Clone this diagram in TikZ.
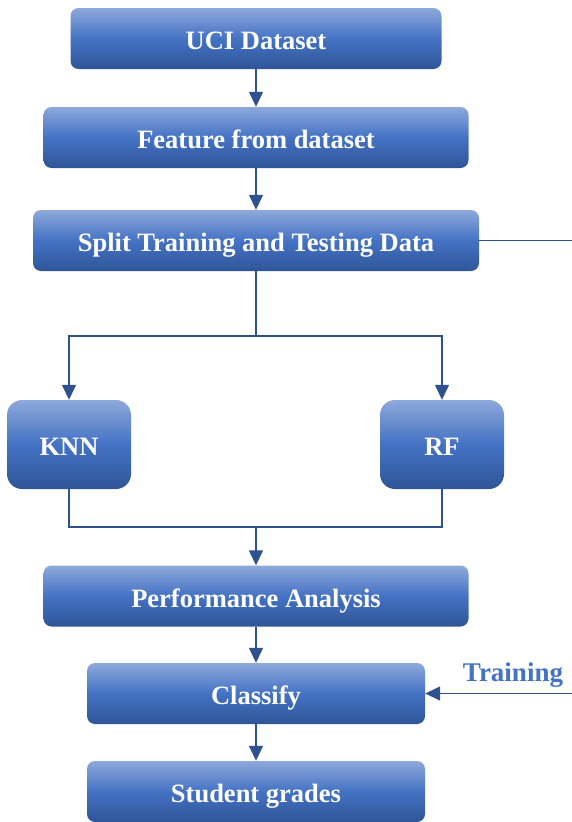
\documentclass[tikz,border=0pt]{standalone}
\usepackage{fontspec}
\setmainfont{Liberation Serif}
\usetikzlibrary{arrows.meta}

\definecolor{boxtop}{HTML}{8EA9DB}
\definecolor{boxmid}{HTML}{4472C4}
\definecolor{boxbot}{HTML}{2F5597}
\definecolor{linkblue}{HTML}{2F528F}

\tikzset{
    stage/.style={rectangle, rounded corners=8pt, inner sep=0pt, minimum height=61pt,
        text height=22pt, text depth=0pt,
        top color=boxtop, bottom color=boxbot, middle color=boxmid,
        text=white, font=\fontsize{26.5}{30}\selectfont\bfseries},
    model/.style={stage, rounded corners=15pt, minimum width=124pt, minimum height=89pt},
    link/.style={draw=linkblue, line width=1.4pt},
    flow/.style={link, -{Triangle[width=14pt,length=15pt]}}
}

\begin{document}
\begin{tikzpicture}[x=1pt, y=-1pt]
    \useasboundingbox (0,0) rectangle (572,822);

    % Draw nodes
    \node[stage, minimum width=371pt] (uci) at (256,38.5) {UCI Dataset};
    \node[stage, minimum width=425pt] (feature) at (256,137.5) {Feature from dataset};
    \node[stage, minimum width=446pt] (split) at (256,240.5) {Split Training and Testing Data};
    \node[model] (knn) at (69,444.5) {KNN};
    \node[model] (rf) at (442,444.5) {RF};
    \node[stage, minimum width=425pt] (perf) at (256,596) {Performance Analysis};
    \node[stage, minimum width=338pt] (classify) at (256,693.5) {Classify};
    \node[stage, minimum width=338pt] (grades) at (256,791.5) {Student grades};

    % Labels
    \node[text=boxmid, font=\fontsize{27}{30}\selectfont\bfseries] (train) at (513,675) {Training};

    % Helper points
    \coordinate (splitend) at (572,240.5);
    \coordinate (fork) at (256,336);
    \coordinate (merge) at (256,527);
    \coordinate (trainend) at (572,693.5);

    % Draw connections
    \draw[flow] (uci) -- (feature);
    \draw[flow] (feature) -- (split);
    \draw[link] (split.east) -- (splitend);
    \draw[link] (split) -- (fork);
    \draw[flow] (fork) -| (knn);
    \draw[flow] (fork) -| (rf);
    \draw[link] (knn) |- (merge) -| (rf);
    \draw[flow] (merge) -- (perf);
    \draw[flow] (perf) -- (classify);
    \draw[flow] (classify) -- (grades);
    \draw[flow] (trainend) -- (classify);
\end{tikzpicture}
\end{document}
